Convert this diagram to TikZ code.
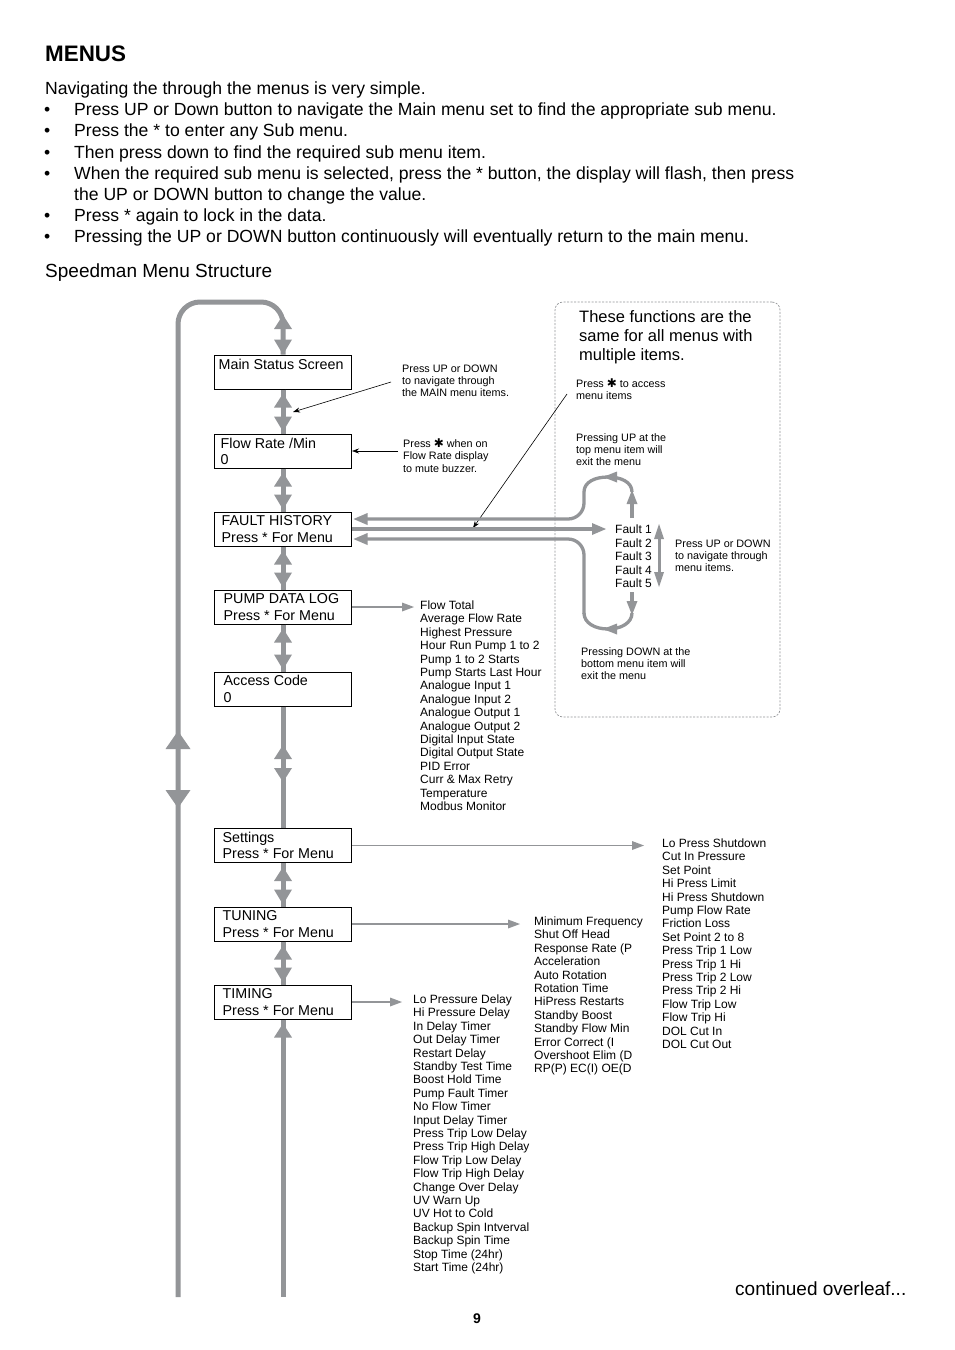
\documentclass[tikz,border=0pt]{standalone}
\usepackage{fontspec}
\setmainfont{Liberation Sans}
\newfontfamily\djv{DejaVu Sans}
\usetikzlibrary{calc,arrows.meta}
\definecolor{gcol}{RGB}{147,149,152}
\newcommand\hstar{{\djv\fontsize{12}{12}\selectfont ✱}}
\begin{document}
\begin{tikzpicture}[x=1pt,y=-1pt,
  trunk/.style={draw=gcol, line width=5pt},
  fline/.style={draw=gcol, line width=3.3pt},
  sline/.style={draw=gcol, line width=1.6pt},
  note/.style={draw=black, line width=0.6pt, -{Stealth[length=7pt,width=5pt]}},
  box/.style={draw=black, line width=1pt, fill=white, minimum width=137pt, minimum height=34pt, inner sep=0pt},
  btxt/.style={anchor=north west, align=left, inner sep=0pt, font=\fontsize{14.3}{16.5}\selectfont},
  lst/.style={anchor=north west, align=left, inner sep=0pt, font=\fontsize{12}{13.4}\selectfont},
  ann/.style={anchor=north west, align=left, inner sep=0pt, font=\fontsize{10.8}{12.4}\selectfont},
  body/.style={anchor=base west, inner sep=0pt, font=\fontsize{17.6}{21}\selectfont},
  pics/ahd/.style 2 args={code={\fill[gcol] (0,0) -- (-#1,#2/2) -- (-#1,-#2/2) -- cycle;}}
]
\fill[white] (0,0) rectangle (954,1350);
\useasboundingbox (0,0) rectangle (954,1350);

% ---- header text
\node[anchor=base west, inner sep=0pt, font=\fontsize{22.4}{26}\selectfont\bfseries] (title) at (45,61) {MENUS};
\node[body] (intro) at (45,94.3) {Navigating the through the menus is very simple.};
\node[body] (d1) at (44,115.3) {\textbullet};
\node[body] (b1) at (74,115.3) {Press UP or Down button to navigate the Main menu set to find the appropriate sub menu.};
\node[body] (d2) at (44,136.3) {\textbullet};
\node[body] (b2) at (74,136.3) {Press the * to enter any Sub menu.};
\node[body] (d3) at (44,158.3) {\textbullet};
\node[body] (b3) at (74,158.3) {Then press down to find the required sub menu item.};
\node[body] (d4) at (44,179.3) {\textbullet};
\node[body] (b4) at (74,179.3) {When the required sub menu is selected, press the * button, the display will flash, then press};
\node[body] (b4b) at (74,200.3) {the UP or DOWN button to change the value.};
\node[body] (d5) at (44,221.3) {\textbullet};
\node[body] (b5) at (74,221.3) {Press * again to lock in the data.};
\node[body] (d6) at (44,242.3) {\textbullet};
\node[body] (b6) at (74,242.3) {Pressing the UP or DOWN button continuously will eventually return to the main menu.};
\node[anchor=base west, inner sep=0pt, font=\fontsize{19}{22}\selectfont] (sub) at (45,277.8) {Speedman Menu Structure};

% ---- menu boxes
\node[box] (main) at (283,372) {};
\node[box] (flow) at (283,451) {};
\node[box] (fault) at (283,529) {};
\node[box] (pump) at (283,607) {};
\node[box] (access) at (283,689) {};
\node[box] (settings) at (283,845.5) {};
\node[box] (tuning) at (283,924) {};
\node[box] (timing) at (283,1002) {};
\coordinate (lbot) at (178,1297);
\coordinate (rbot) at (283,1297);

% ---- trunk
\draw[trunk, rounded corners=22] (lbot) -- (178,302) -- (283,302) -- (main.north);
\draw[trunk] (main.south) -- (flow.north);
\draw[trunk] (flow.south) -- (fault.north);
\draw[trunk] (fault.south) -- (pump.north);
\draw[trunk] (pump.south) -- (access.north);
\draw[trunk] (access.south) -- (settings.north);
\draw[trunk] (settings.south) -- (tuning.north);
\draw[trunk] (tuning.south) -- (timing.north);
\draw[trunk] (timing.south) -- (rbot);

\pic[rotate=90] at (283,315) {ahd={14}{18}};
\pic[rotate=-90] at (main.north) {ahd={15}{18}};
\foreach \a/\b in {main/flow, flow/fault, fault/pump, pump/access, settings/tuning, tuning/timing}{
  \pic[rotate=90] at ($(\a.south)+(0,4)$) {ahd={14}{18}};
  \pic[rotate=-90] at ($(\b.north)+(0,-2)$) {ahd={15}{18}};
}
\pic[rotate=90] at (283,745) {ahd={14}{18}};
\pic[rotate=-90] at (283,782) {ahd={14}{18}};
\pic[rotate=90] at ($(timing.south)+(0,4)$) {ahd={14}{18}};
\pic[rotate=90] at (178,731) {ahd={18}{25}};
\pic[rotate=-90] at (178,808) {ahd={18}{25}};

% ---- box texts
\node[btxt] (mainT) at ($(main.north west)+(4.5,3)$) {\strut Main Status Screen};
\node[btxt] (flowT) at ($(flow.north west)+(6.5,3)$) {\strut Flow Rate /Min\\0};
\node[btxt] (faultT) at ($(fault.north west)+(7.5,2.6)$) {\strut FAULT HISTORY\\Press * For Menu};
\node[btxt] (pumpT) at ($(pump.north west)+(9.5,2.6)$) {\strut PUMP DATA LOG\\Press * For Menu};
\node[btxt] (accessT) at ($(access.north west)+(9.5,2.6)$) {\strut Access Code\\0};
\node[btxt] (settingsT) at ($(settings.north west)+(8.5,2.6)$) {\strut Settings\\Press * For Menu};
\node[btxt] (tuningT) at ($(tuning.north west)+(8.5,2.6)$) {\strut TUNING\\Press * For Menu};
\node[btxt] (timingT) at ($(timing.north west)+(8.5,2.6)$) {\strut TIMING\\Press * For Menu};

% ---- annotations
\node[ann] (n1) at (402,363.3) {\strut Press UP or DOWN\\to navigate through\\the MAIN menu items.};
\coordinate (n1s) at (391,382);
\coordinate (n1e) at (293,412);
\draw[note] (n1s) -- (n1e);
\node[ann] (n2) at (403,438.3) {\strut Press \hstar{} when on\\Flow Rate display\\to mute buzzer.};
\coordinate (n2s) at (398,451);
\draw[note] (n2s) -- (flow.east);

% ---- functions box
\node[draw=gcol, line width=0.7pt, dash pattern=on 2pt off 1.5pt, rounded corners=8, minimum width=225pt, minimum height=415pt, inner sep=0pt] (fnbox) at (667.5,509.5) {};
\node[anchor=north west, align=left, inner sep=0pt, font=\fontsize{16.5}{19}\selectfont] (fntxt) at (579,308.6) {\strut These functions are the\\same for all menus with\\multiple items.};
\node[ann] (n3) at (576,378.3) {\strut Press \hstar{} to access\\menu items};
\coordinate (n3s) at (567,394);
\coordinate (n3e) at (473,528);
\draw[note] (n3s) -- (n3e);
\node[ann] (upT) at (576,432.3) {\strut Pressing UP at the\\top menu item will\\exit the menu};
\node[ann] (navT) at (675,538.3) {\strut Press UP or DOWN\\to navigate through\\menu items.};
\node[ann] (dnT) at (581,646.3) {\strut Pressing DOWN at the\\bottom menu item will\\exit the menu};
\node[anchor=north west, align=left, inner sep=0pt, font=\fontsize{12}{13.5}\selectfont] (faults) at (615,523.9) {\strut Fault 1\\Fault 2\\Fault 3\\Fault 4\\Fault 5};

% fault history connectors
\draw[fline, rounded corners=16] (584,492) -- (584,519) -- ($(fault.east)+(10,-10)$);
\pic[rotate=180] at ($(fault.east)+(1.5,-10)$) {ahd={14}{12}};
\draw[fline] (632,492) .. controls (632,482) and (621,477) .. (608,477) .. controls (595,477) and (584,482) .. (584,492);
\pic[rotate=180] at (603,477) {ahd={14}{11}};
\draw[fline] (632,518) -- (632,502);
\pic[rotate=90] at (632,490) {ahd={14}{11}};
\draw[fline] (fault.east) -- (594,529);
\pic at (606,529) {ahd={14}{12}};
\draw[fline, rounded corners=16] ($(fault.east)+(10,10)$) -- (584,539) -- (584,614);
\pic[rotate=180] at ($(fault.east)+(1.5,10)$) {ahd={14}{12}};
\draw[fline] (584,613) .. controls (584,623) and (595,629) .. (608,629) .. controls (621,629) and (632,623) .. (632,613);
\pic[rotate=180] at (603,629) {ahd={14}{11}};
\draw[fline] (632,592) -- (632,603);
\pic[rotate=-90] at (632,615) {ahd={14}{11}};
\draw[draw=gcol, line width=3pt] (659,536) -- (659,575);
\pic[rotate=90] at (659,524) {ahd={15}{10}};
\pic[rotate=-90] at (659,587) {ahd={15}{10}};

% ---- sub menu lists
\draw[sline] (pump.east) -- (404,607);
\pic at (414,607) {ahd={12}{9}};
\node[lst] (pumpL) at (420,599.9) {\strut Flow Total\\Average Flow Rate\\Highest Pressure\\Hour Run Pump 1 to 2\\Pump 1 to 2 Starts\\Pump Starts Last Hour\\Analogue Input 1\\Analogue Input 2\\Analogue Output 1\\Analogue Output 2\\Digital Input State\\Digital Output State\\PID Error\\Curr \& Max Retry\\Temperature\\Modbus Monitor};

\draw[sline] (settings.east) -- (634,845.5);
\pic at (644,845.5) {ahd={12}{9}};
\node[lst] (setL) at (662,837.9) {\strut Lo Press Shutdown\\Cut In Pressure\\Set Point\\Hi Press Limit\\Hi Press Shutdown\\Pump Flow Rate\\Friction Loss\\Set Point 2 to 8\\Press Trip 1 Low\\Press Trip 1 Hi\\Press Trip 2 Low\\Press Trip 2 Hi\\Flow Trip Low\\Flow Trip Hi\\DOL Cut In\\DOL Cut Out};

\draw[sline] (tuning.east) -- (510,924);
\pic at (520,924) {ahd={12}{9}};
\node[lst] (tunL) at (534,915.9) {\strut Minimum Frequency\\Shut Off Head\\Response Rate (P\\Acceleration\\Auto Rotation\\Rotation Time\\HiPress Restarts\\Standby Boost\\Standby Flow Min\\Error Correct (I\\Overshoot Elim (D\\RP(P) EC(I) OE(D};

\draw[sline] (timing.east) -- (392,1002);
\pic at (402,1002) {ahd={12}{9}};
\node[lst] (timL) at (413,993.9) {\strut Lo Pressure Delay\\Hi Pressure Delay\\In Delay Timer\\Out Delay Timer\\Restart Delay\\Standby Test Time\\Boost Hold Time\\Pump Fault Timer\\No Flow Timer\\Input Delay Timer\\Press Trip Low Delay\\Press Trip High Delay\\Flow Trip Low Delay\\Flow Trip High Delay\\Change Over Delay\\UV Warn Up\\UV Hot to Cold\\Backup Spin Intverval\\Backup Spin Time\\Stop Time (24hr)\\Start Time (24hr)};

% ---- footer
\node[anchor=base west, inner sep=0pt, font=\fontsize{19}{22}\selectfont] (cont) at (735,1295.8) {continued overleaf...};
\node[anchor=base, inner sep=0pt, font=\fontsize{14}{16}\selectfont\bfseries] (pg) at (477,1323) {9};
\end{tikzpicture}
\end{document}
